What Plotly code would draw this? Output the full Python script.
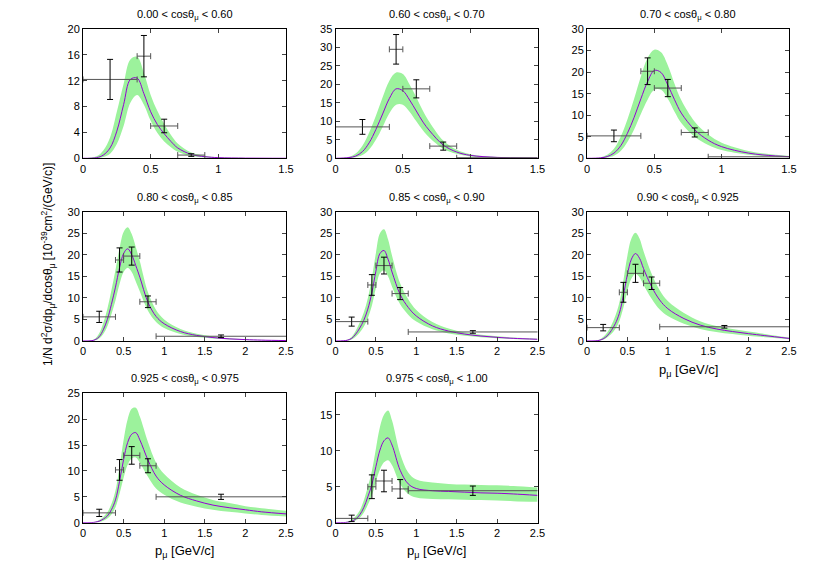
import plotly.graph_objects as go

FONT = "Liberation Sans, Arial, sans-serif"
BAND = "#9cf29c"
CURVE = "#9400d3"

PANEL_TITLES = [
    "0.00 < cosθ<sub>μ</sub> < 0.60",
    "0.60 < cosθ<sub>μ</sub> < 0.70",
    "0.70 < cosθ<sub>μ</sub> < 0.80",
    "0.80 < cosθ<sub>μ</sub> < 0.85",
    "0.85 < cosθ<sub>μ</sub> < 0.90",
    "0.90 < cosθ<sub>μ</sub> < 0.925",
    "0.925 < cosθ<sub>μ</sub> < 0.975",
    "0.975 < cosθ<sub>μ</sub> < 1.00",
]
X_MAX = [1.5, 1.5, 1.5, 2.5, 2.5, 2.5, 2.5, 2.5]
Y_MAX = [20, 35, 30, 30, 30, 30, 25, 18]
Y_DTICK = [4, 5, 5, 5, 5, 5, 5, 5]

# momentum grid for the model curves
P_GRID = [0.0, 0.1, 0.15, 0.2, 0.25, 0.3, 0.35, 0.4, 0.45, 0.5, 0.55, 0.6,
          0.65, 0.7, 0.8, 0.9, 1.0, 1.2, 1.4, 1.6, 1.8, 2.0, 2.2, 2.5]

MODEL = [
    [0, 0.1, 0.5, 1.6, 4.2, 8.3, 12.2, 12.4, 10.0, 7.2, 5.2, 3.8, 2.6, 1.6, 0.6, 0.25, 0.1, 0.03, 0.01, 0, 0, 0, 0, 0],
    [0, 0.2, 0.6, 1.8, 4.2, 7.8, 12.0, 16.2, 18.8, 18.3, 15.8, 12.8, 9.8, 7.4, 3.6, 1.7, 0.8, 0.25, 0.08, 0.03, 0.01, 0, 0, 0],
    [0, 0.1, 0.4, 1.2, 2.9, 5.8, 9.5, 13.8, 17.8, 20.4, 19.9, 17.0, 13.6, 10.5, 6.6, 4.2, 2.7, 1.2, 0.55, 0.27, 0.13, 0.06, 0.03, 0.01],
    [0, 0.05, 0.3, 1.0, 2.6, 5.0, 8.5, 12.5, 17.0, 20.3, 21.4, 20.0, 17.5, 14.8, 9.0, 5.7, 4.0, 2.2, 1.3, 0.8, 0.5, 0.32, 0.2, 0.1],
    [0, 0.05, 0.2, 0.6, 1.6, 3.0, 4.8, 7.4, 11.2, 16.2, 20.3, 21.0, 19.0, 16.0, 10.8, 7.8, 5.8, 3.5, 2.3, 1.6, 1.15, 0.85, 0.62, 0.4],
    [0, 0.03, 0.15, 0.5, 1.2, 2.4, 4.0, 6.4, 10.5, 15.4, 19.0, 20.3, 19.2, 16.8, 12.6, 9.5, 7.5, 5.2, 3.7, 2.8, 2.2, 1.7, 1.25, 0.6],
    [0, 0.02, 0.1, 0.3, 0.7, 1.3, 2.5, 4.4, 8.0, 12.2, 15.5, 17.1, 17.4, 16.0, 12.1, 9.0, 7.3, 5.3, 4.2, 3.4, 2.9, 2.5, 2.1, 1.7],
    [0, 0.02, 0.07, 0.2, 0.5, 1.1, 2.1, 3.6, 5.3, 7.8, 10.1, 11.4, 11.8, 10.8, 7.3, 5.4, 4.75, 4.45, 4.35, 4.25, 4.15, 4.1, 4.0, 3.8],
]
BAND_LO = [
    [0, 0, 0.2, 0.7, 2.2, 5.0, 8.6, 9.8, 8.3, 5.8, 3.9, 2.6, 1.7, 1.0, 0.35, 0.12, 0.04, 0.01, 0, 0, 0, 0, 0, 0],
    [0, 0.05, 0.3, 0.9, 2.4, 5.0, 8.5, 12.2, 14.5, 14.5, 12.6, 10.0, 7.5, 5.5, 2.6, 1.2, 0.5, 0.15, 0.05, 0.02, 0, 0, 0, 0],
    [0, 0.03, 0.2, 0.6, 1.7, 3.8, 6.7, 10.3, 13.6, 15.9, 15.9, 13.8, 10.8, 8.2, 5.0, 3.1, 1.9, 0.8, 0.35, 0.16, 0.08, 0.04, 0.02, 0],
    [0, 0.02, 0.15, 0.6, 1.6, 3.4, 6.2, 9.4, 13.2, 16.0, 17.0, 16.0, 13.8, 11.5, 7.0, 4.4, 3.0, 1.6, 0.95, 0.6, 0.37, 0.24, 0.15, 0.07],
    [0, 0.02, 0.1, 0.35, 1.0, 2.0, 3.3, 5.3, 8.2, 12.3, 15.7, 16.4, 15.0, 12.6, 8.5, 6.1, 4.5, 2.7, 1.75, 1.2, 0.85, 0.62, 0.45, 0.28],
    [0, 0.01, 0.07, 0.3, 0.8, 1.6, 2.8, 4.6, 7.7, 11.6, 14.5, 15.6, 14.8, 13.0, 9.8, 7.3, 5.8, 4.0, 2.8, 2.1, 1.6, 1.2, 0.85, 0.4],
    [0, 0.01, 0.05, 0.15, 0.4, 0.8, 1.6, 3.0, 5.6, 8.7, 11.2, 12.4, 12.6, 11.6, 8.9, 6.6, 5.4, 3.9, 3.1, 2.5, 2.1, 1.8, 1.5, 1.2],
    [0, 0.01, 0.03, 0.1, 0.3, 0.7, 1.4, 2.5, 3.8, 5.7, 7.4, 8.4, 8.7, 8.0, 5.4, 4.0, 3.5, 3.3, 3.25, 3.2, 3.15, 3.1, 3.0, 2.9],
]
BAND_HI = [
    [0, 0.3, 1.2, 3.2, 7.2, 11.5, 15.3, 15.7, 13.2, 9.8, 7.3, 5.3, 3.6, 2.3, 0.9, 0.4, 0.15, 0.05, 0.01, 0, 0, 0, 0, 0],
    [0, 0.4, 1.3, 3.4, 7.0, 11.5, 16.5, 21.0, 23.2, 22.8, 20.0, 16.5, 12.8, 9.7, 4.8, 2.3, 1.1, 0.35, 0.12, 0.05, 0.02, 0, 0, 0],
    [0, 0.2, 0.8, 2.2, 5.0, 9.0, 13.8, 19.0, 23.3, 25.2, 24.6, 21.6, 17.3, 13.5, 8.5, 5.5, 3.6, 1.7, 0.8, 0.4, 0.2, 0.1, 0.05, 0.02],
    [0, 0.15, 0.6, 1.8, 4.2, 7.5, 11.8, 16.5, 21.5, 25.3, 26.4, 24.8, 21.8, 18.5, 11.3, 7.2, 5.0, 2.8, 1.7, 1.05, 0.65, 0.42, 0.27, 0.13],
    [0, 0.1, 0.35, 1.0, 2.4, 4.3, 6.6, 9.9, 14.6, 20.4, 25.0, 25.9, 23.6, 19.8, 13.4, 9.7, 7.2, 4.4, 2.9, 2.0, 1.45, 1.08, 0.8, 0.52],
    [0, 0.08, 0.3, 0.9, 2.0, 3.6, 5.8, 8.9, 14.0, 19.8, 23.8, 25.1, 23.8, 20.8, 15.6, 11.8, 9.3, 6.5, 4.6, 3.5, 2.8, 2.2, 1.65, 0.8],
    [0, 0.05, 0.2, 0.5, 1.1, 2.0, 3.6, 6.2, 10.8, 16.0, 20.0, 22.0, 22.2, 20.5, 15.6, 11.6, 9.4, 6.8, 5.4, 4.4, 3.8, 3.2, 2.8, 2.3],
    [0, 0.05, 0.15, 0.4, 0.9, 1.7, 3.1, 5.0, 7.2, 10.3, 13.3, 15.0, 15.6, 14.2, 9.6, 7.0, 6.0, 5.6, 5.4, 5.3, 5.25, 5.2, 5.1, 4.9],
]

# measured bins (bin centre, lower and upper half-width)
DATA_P = [0.2, 0.45, 0.6, 0.8, 1.7]
DATA_P_MINUS = [0.2, 0.05, 0.1, 0.1, 0.8]
DATA_P_PLUS = [0.2, 0.05, 0.1, 0.1, 28.3]
DATA_Y = [
    [12.2, 15.8, 5.0, 0.5],
    [8.5, 29.5, 18.8, 3.3, 0.15],
    [5.2, 20.2, 16.3, 6.0, 0.35],
    [5.6, 18.8, 19.7, 9.1, 1.1],
    [4.5, 13.0, 17.5, 11.0, 2.1],
    [3.1, 11.3, 15.7, 13.4, 3.3],
    [1.9, 10.2, 13.0, 11.0, 5.0],
    [0.6, 5.0, 5.8, 4.7, 4.45],
]
DATA_ERR = [
    [3.1, 3.2, 1.05, 0.2],
    [2.0, 4.0, 2.45, 1.1, 0.1],
    [1.35, 3.1, 2.0, 1.05, 0.15],
    [1.3, 2.8, 2.1, 1.35, 0.3],
    [1.05, 2.4, 1.95, 1.4, 0.3],
    [0.75, 2.3, 2.1, 1.45, 0.3],
    [0.7, 2.0, 1.7, 1.35, 0.5],
    [0.45, 1.65, 1.5, 1.3, 0.65],
]

# plot-area boxes in pixels (left, right) / (top, bottom); the page body
# adds an 8px offset, so these sit 8px up-left of the target spots
W, H = 830, 581
COLS = [(75, 278), (327.5, 529.5), (579, 781)]
ROWS = [(21, 150.3), (203.7, 333), (385.3, 514.7)]

fig = go.Figure()
annotations = []

for i, title in enumerate(PANEL_TITLES):
    row, col = divmod(i, 3)
    n = i + 1
    xa, ya = f"x{n}", f"y{n}"
    x0, x1 = COLS[col][0] / W, COLS[col][1] / W
    y0, y1 = 1 - ROWS[row][1] / H, 1 - ROWS[row][0] / H

    fig.add_trace(go.Scatter(x=P_GRID, y=BAND_LO[i], mode="lines",
                             line=dict(width=0, shape="spline"),
                             xaxis=xa, yaxis=ya, showlegend=False,
                             hoverinfo="skip"))
    fig.add_trace(go.Scatter(x=P_GRID, y=BAND_HI[i], mode="lines",
                             line=dict(width=0, shape="spline"),
                             fill="tonexty", fillcolor=BAND,
                             xaxis=xa, yaxis=ya, showlegend=False,
                             hoverinfo="skip"))
    fig.add_trace(go.Scatter(x=P_GRID, y=MODEL[i], mode="lines",
                             line=dict(color=CURVE, width=1, shape="spline"),
                             xaxis=xa, yaxis=ya, showlegend=False))
    k = len(DATA_Y[i])
    fig.add_trace(go.Scatter(
        x=DATA_P[:k], y=DATA_Y[i], mode="markers",
        marker=dict(size=1, color="black"),
        error_x=dict(type="data", symmetric=False, array=DATA_P_PLUS[:k],
                     arrayminus=DATA_P_MINUS[:k], color="#555",
                     thickness=1, width=3),
        error_y=dict(type="data", array=DATA_ERR[i], color="black",
                     thickness=1, width=3),
        xaxis=xa, yaxis=ya, showlegend=False))

    axis_common = dict(showline=True, linecolor="black", linewidth=1,
                       mirror="allticks", ticks="inside", ticklen=4,
                       tickcolor="#444", showgrid=False, zeroline=False,
                       automargin=False,
                       tickfont=dict(family=FONT, size=11, color="black"))
    fig.layout[f"xaxis{n}"] = dict(domain=[x0, x1], anchor=ya,
                                   range=[0, X_MAX[i]], dtick=0.5,
                                   **axis_common)
    fig.layout[f"yaxis{n}"] = dict(domain=[y0, y1], anchor=xa,
                                   range=[0, Y_MAX[i]], dtick=Y_DTICK[i],
                                   **axis_common)

    annotations.append(dict(text=title, x=(x0 + x1) / 2, y=y1,
                            xref="paper", yref="paper", xanchor="center",
                            yanchor="bottom", yshift=5, showarrow=False,
                            font=dict(family=FONT, size=11, color="black")))
    if i >= 5:
        annotations.append(dict(text="p<sub>μ</sub> [GeV/c]",
                                x=(x0 + x1) / 2, y=y0, xref="paper",
                                yref="paper", xanchor="center",
                                yanchor="middle", yshift=-29,
                                showarrow=False,
                                font=dict(family=FONT, size=13,
                                          color="black")))

annotations.append(dict(
    text="1/N d<sup>2</sup>σ/dp<sub>μ</sub>/dcosθ<sub>μ</sub> "
         "[10<sup>-39</sup>cm<sup>2</sup>/(GeV/c)]",
    x=40 / W, y=1 - 257 / H, xref="paper", yref="paper",
    xanchor="center", yanchor="middle", textangle=-90, showarrow=False,
    font=dict(family=FONT, size=12, color="black")))

fig.update_layout(
    width=W, height=H,
    margin=dict(l=0, r=0, t=0, b=0, pad=0, autoexpand=False),
    paper_bgcolor="white", plot_bgcolor="white",
    annotations=annotations,
    font=dict(family=FONT),
)
fig.write_html("out.html")
